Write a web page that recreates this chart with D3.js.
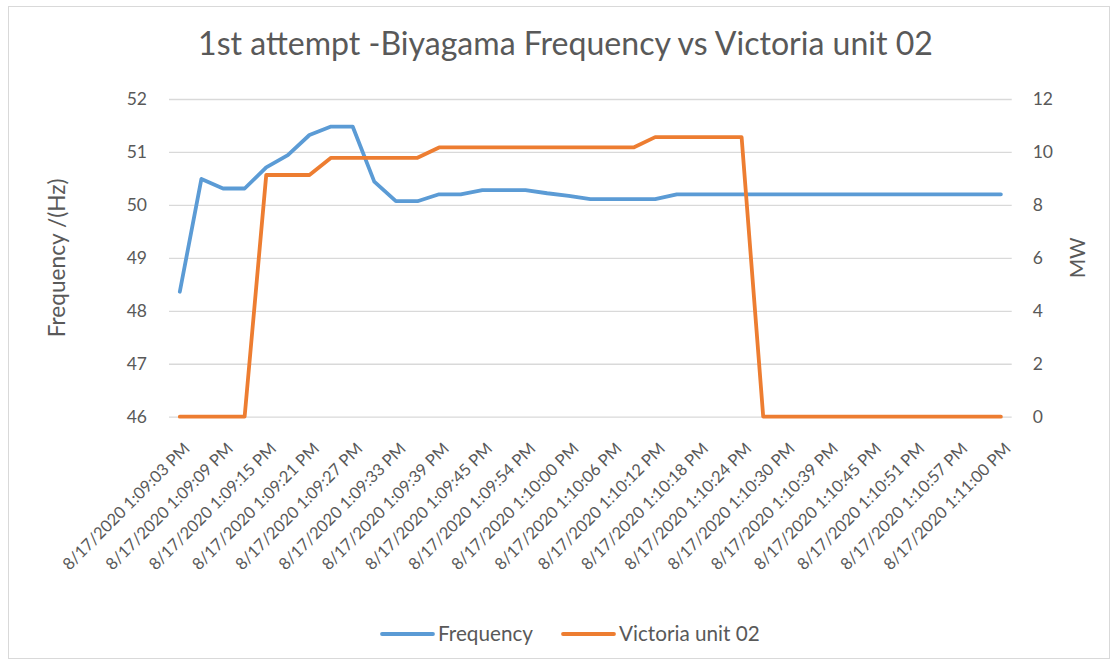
<!DOCTYPE html>
<html>
<head>
<meta charset="utf-8">
<script src="https://cdn.jsdelivr.net/npm/d3@7"></script>
<style>
  html, body { margin: 0; padding: 0; background: #fff; }
  svg { display: block; }
  text { font-family: Lato, "Noto Sans", sans-serif; fill: #595959; }
</style>
</head>
<body>
<svg id="chart" width="1115" height="665"></svg>
<script>
// ---------------- data ----------------
const categories = [
  "8/17/2020 1:09:03 PM", "8/17/2020 1:09:06 PM", "8/17/2020 1:09:09 PM", "8/17/2020 1:09:12 PM",
  "8/17/2020 1:09:15 PM", "8/17/2020 1:09:18 PM", "8/17/2020 1:09:21 PM", "8/17/2020 1:09:24 PM",
  "8/17/2020 1:09:27 PM", "8/17/2020 1:09:30 PM", "8/17/2020 1:09:33 PM", "8/17/2020 1:09:36 PM",
  "8/17/2020 1:09:39 PM", "8/17/2020 1:09:42 PM", "8/17/2020 1:09:45 PM", "8/17/2020 1:09:48 PM",
  "8/17/2020 1:09:54 PM", "8/17/2020 1:09:57 PM", "8/17/2020 1:10:00 PM", "8/17/2020 1:10:03 PM",
  "8/17/2020 1:10:06 PM", "8/17/2020 1:10:09 PM", "8/17/2020 1:10:12 PM", "8/17/2020 1:10:15 PM",
  "8/17/2020 1:10:18 PM", "8/17/2020 1:10:21 PM", "8/17/2020 1:10:24 PM", "8/17/2020 1:10:27 PM",
  "8/17/2020 1:10:30 PM", "8/17/2020 1:10:33 PM", "8/17/2020 1:10:39 PM", "8/17/2020 1:10:42 PM",
  "8/17/2020 1:10:45 PM", "8/17/2020 1:10:48 PM", "8/17/2020 1:10:51 PM", "8/17/2020 1:10:54 PM",
  "8/17/2020 1:10:57 PM", "8/17/2020 1:10:58 PM", "8/17/2020 1:11:00 PM"
];
const frequency = [
  48.36, 50.49, 50.31, 50.31, 50.71, 50.94, 51.32, 51.48, 51.48, 50.44,
  50.07, 50.07, 50.20, 50.20, 50.28, 50.28, 50.28, 50.22, 50.17, 50.11,
  50.11, 50.11, 50.11, 50.20, 50.20, 50.20, 50.20, 50.20, 50.20, 50.20,
  50.20, 50.20, 50.20, 50.20, 50.20, 50.20, 50.20, 50.20, 50.20
];
const victoria = [
  0, 0, 0, 0, 9.13, 9.13, 9.13, 9.78, 9.78, 9.78,
  9.78, 9.78, 10.17, 10.17, 10.17, 10.17, 10.17, 10.17, 10.17, 10.17,
  10.17, 10.17, 10.56, 10.56, 10.56, 10.56, 10.56, 0, 0, 0,
  0, 0, 0, 0, 0, 0, 0, 0, 0
];
const leftTicks = [46, 47, 48, 49, 50, 51, 52];
const rightTicks = [0, 2, 4, 6, 8, 10, 12];
const seriesNames = ["Frequency", "Victoria unit 02"];
const seriesColors = ["#5B9BD5", "#ED7D31"];
const titleText = "1st attempt -Biyagama Frequency vs Victoria unit 02";
const leftTitle = "Frequency /(Hz)";
const rightTitle = "MW";

// ---------------- layout ----------------
const svg = d3.select("#chart");
const plot = { left: 169, right: 1011.7, top: 99, bottom: 416.7 };

function fit(sel, target) {
  const node = sel.node();
  const fs = parseFloat(sel.attr("font-size"));
  const w = node.getComputedTextLength();
  if (w > 0) sel.attr("font-size", (fs * target / w).toFixed(2));
  return sel;
}

// border
svg.append("rect")
  .attr("x", 8.5).attr("y", 6.5).attr("width", 1101).attr("height", 652)
  .attr("fill", "#fff").attr("stroke", "#d9d9d9").attr("stroke-width", 1);

const x = d3.scaleBand().domain(d3.range(categories.length))
  .range([plot.left, plot.right]).padding(0);
const xc = i => x(i) + x.bandwidth() / 2;
const yL = d3.scaleLinear().domain([46, 52]).range([plot.bottom, plot.top]);
const yR = d3.scaleLinear().domain([0, 12]).range([plot.bottom, plot.top]);

// gridlines
svg.append("g")
  .attr("transform", `translate(${plot.left},0)`)
  .call(d3.axisLeft(yL).tickValues(leftTicks).tickSize(-(plot.right - plot.left)).tickFormat(""))
  .call(g => g.select(".domain").remove())
  .call(g => g.selectAll("line").attr("stroke", "#d9d9d9").attr("stroke-width", 1.3));

// left axis labels
const gL = svg.append("g")
  .attr("transform", `translate(${plot.left},0)`)
  .call(d3.axisLeft(yL).tickValues(leftTicks).tickSize(0).tickPadding(22).tickFormat(d3.format("d")))
  .call(g => g.select(".domain").remove());
gL.attr("font-family", null).attr("font-size", null);
gL.selectAll("text").attr("font-size", 17.5).attr("fill", "#595959");

// right axis labels
const gR = svg.append("g")
  .attr("transform", `translate(${plot.right},0)`)
  .call(d3.axisRight(yR).tickValues(rightTicks).tickSize(0).tickPadding(21).tickFormat(d3.format("d")))
  .call(g => g.select(".domain").remove());
gR.attr("font-family", null).attr("font-size", null);
gR.selectAll("text").attr("font-size", 17.5).attr("fill", "#595959");

// x axis labels
const gX = svg.append("g")
  .attr("transform", `translate(0,${plot.bottom})`)
  .call(d3.axisBottom(x).tickValues(d3.range(0, categories.length, 2)).tickSize(0)
    .tickFormat(i => categories[i]))
  .call(g => g.select(".domain").remove());
gX.attr("font-family", null).attr("font-size", null);
gX.selectAll("text")
  .attr("font-size", 16.5)
  .attr("fill", "#595959")
  .attr("text-anchor", "end")
  .attr("dy", null)
  .attr("y", 0)
  .attr("transform", "translate(11,33) rotate(-45)");

// lines
const lineL = d3.line().x((d, i) => xc(i)).y(d => yL(d));
const lineR = d3.line().x((d, i) => xc(i)).y(d => yR(d));
svg.append("path").datum(frequency).attr("d", lineL)
  .attr("fill", "none").attr("stroke", seriesColors[0]).attr("stroke-width", 3.8)
  .attr("stroke-linejoin", "round").attr("stroke-linecap", "round");
svg.append("path").datum(victoria).attr("d", lineR)
  .attr("fill", "none").attr("stroke", seriesColors[1]).attr("stroke-width", 3.8)
  .attr("stroke-linejoin", "round").attr("stroke-linecap", "round");

// title
const t = svg.append("text").attr("x", 565.5).attr("y", 55).attr("text-anchor", "middle")
  .attr("font-size", 26).text(titleText);
fit(t, 735);

// axis titles
const lt = svg.append("text").attr("text-anchor", "middle").attr("dy", "0.35em")
  .attr("transform", `translate(57,${(plot.top + plot.bottom) / 2}) rotate(-90)`)
  .attr("font-size", 18).text(leftTitle);
fit(lt, 159);
const rt = svg.append("text").attr("text-anchor", "middle").attr("dy", "0.35em")
  .attr("transform", `translate(1078,${(plot.top + plot.bottom) / 2}) rotate(-90)`)
  .attr("font-size", 18).text(rightTitle);
fit(rt, 41);

// legend
const legendX = [382, 563];
const legendY = 634;
const leg = svg.append("g");
seriesNames.forEach((name, k) => {
  leg.append("line").attr("x1", legendX[k]).attr("x2", legendX[k] + 51)
    .attr("y1", legendY).attr("y2", legendY)
    .attr("stroke", seriesColors[k]).attr("stroke-width", 3.8).attr("stroke-linecap", "round");
  const tx = leg.append("text").attr("x", legendX[k] + 56).attr("y", legendY).attr("dy", "0.35em")
    .attr("font-size", 17.5).text(name);
  if (k === 0) fit(tx, 95);
});
const lfs = leg.select("text").attr("font-size");
leg.selectAll("text").attr("font-size", lfs);
</script>
</body>
</html>
